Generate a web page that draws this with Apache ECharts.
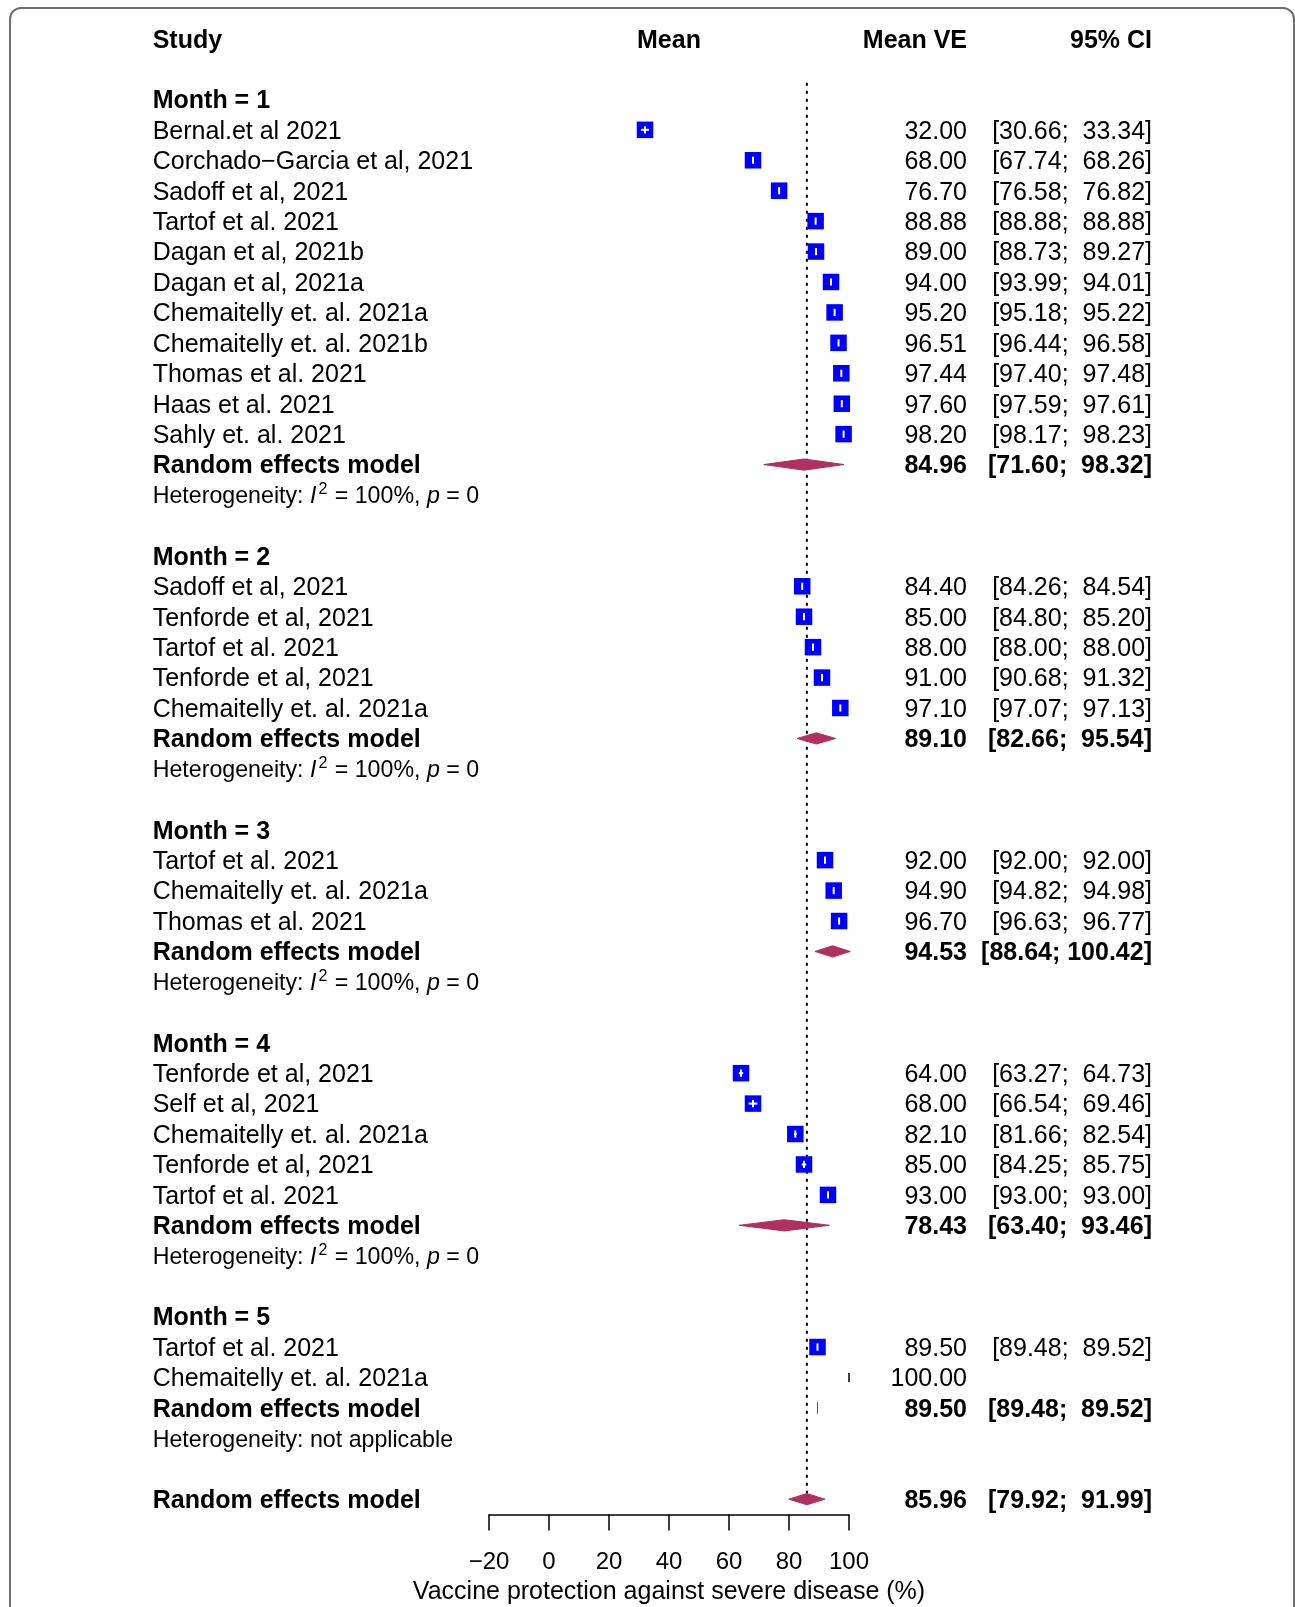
<!DOCTYPE html>
<html>
<head>
<meta charset="utf-8">
<title>Vaccine protection against severe disease by month</title>
<script src="https://cdn.jsdelivr.net/npm/echarts@6/dist/echarts.min.js"></script>
<style>
  html, body { margin: 0; padding: 0; background: #ffffff; }
  #chart { width: 1295px; height: 1607px; }
</style>
</head>
<body>
<div id="chart"></div>
<script>
// ---- Study estimates by month since vaccination (VE, 95% CI) ----
const month1Studies = ['Bernal.et al 2021', 'Corchado\u2212Garcia et al, 2021', 'Sadoff et al, 2021', 'Tartof et al. 2021',
  'Dagan et al, 2021b', 'Dagan et al, 2021a', 'Chemaitelly et. al. 2021a', 'Chemaitelly et. al. 2021b',
  'Thomas et al. 2021', 'Haas et al. 2021', 'Sahly et. al. 2021'];
const month1VE    = [32.00, 68.00, 76.70, 88.88, 89.00, 94.00, 95.20, 96.51, 97.44, 97.60, 98.20];
const month1Lower = [30.66, 67.74, 76.58, 88.88, 88.73, 93.99, 95.18, 96.44, 97.40, 97.59, 98.17];
const month1Upper = [33.34, 68.26, 76.82, 88.88, 89.27, 94.01, 95.22, 96.58, 97.48, 97.61, 98.23];

const month2Studies = ['Sadoff et al, 2021', 'Tenforde et al, 2021', 'Tartof et al. 2021', 'Tenforde et al, 2021',
  'Chemaitelly et. al. 2021a'];
const month2VE    = [84.40, 85.00, 88.00, 91.00, 97.10];
const month2Lower = [84.26, 84.80, 88.00, 90.68, 97.07];
const month2Upper = [84.54, 85.20, 88.00, 91.32, 97.13];

const month3Studies = ['Tartof et al. 2021', 'Chemaitelly et. al. 2021a', 'Thomas et al. 2021'];
const month3VE    = [92.00, 94.90, 96.70];
const month3Lower = [92.00, 94.82, 96.63];
const month3Upper = [92.00, 94.98, 96.77];

const month4Studies = ['Tenforde et al, 2021', 'Self et al, 2021', 'Chemaitelly et. al. 2021a', 'Tenforde et al, 2021',
  'Tartof et al. 2021'];
const month4VE    = [64.00, 68.00, 82.10, 85.00, 93.00];
const month4Lower = [63.27, 66.54, 81.66, 84.25, 93.00];
const month4Upper = [64.73, 69.46, 82.54, 85.75, 93.00];

const month5Studies = ['Tartof et al. 2021', 'Chemaitelly et. al. 2021a'];
const month5VE    = [89.50, 100.00];
const month5Lower = [89.48, null];
const month5Upper = [89.52, null];

// ---- Random effects pooled estimates per month ----
const monthLabels  = ['Month = 1', 'Month = 2', 'Month = 3', 'Month = 4', 'Month = 5'];
const pooledVE     = [84.96, 89.10, 94.53, 78.43, 89.50];
const pooledLower  = [71.60, 82.66, 88.64, 63.40, 89.48];
const pooledUpper  = [98.32, 95.54, 100.42, 93.46, 89.52];
const heterogI2    = ['100%', '100%', '100%', '100%', null];
const heterogP     = ['0', '0', '0', '0', null];

// ---- Overall random effects estimate ----
const overallVE    = 85.96;
const overallLower = 79.92;
const overallUpper = 91.99;

// ---- Axis ----
const axisTicks = [-20, 0, 20, 40, 60, 80, 100];
const axisTitle = 'Vaccine protection against severe disease (%)';

// ---------------------------------------------------------------------
const FONT = '"Liberation Sans", Arial, Helvetica, sans-serif';
const groups = [
  { names: month1Studies, ve: month1VE, lo: month1Lower, hi: month1Upper },
  { names: month2Studies, ve: month2VE, lo: month2Lower, hi: month2Upper },
  { names: month3Studies, ve: month3VE, lo: month3Lower, hi: month3Upper },
  { names: month4Studies, ve: month4VE, lo: month4Lower, hi: month4Upper },
  { names: month5Studies, ve: month5VE, lo: month5Lower, hi: month5Upper }
];

const fmt = v => v.toFixed(2);
function ciText(lo, hi) {
  if (lo == null || hi == null) return '';
  const h = fmt(hi);
  return '[' + fmt(lo) + ';' + (h.length < 6 ? '  ' : ' ') + h + ']';
}

// Lay the table out row by row
const textRows = [];
const studyMarks = [];   // [ve, row, lower, upper]
const plainMarks = [];   // [ve, row] – estimates without an interval
const pooledMarks = [];  // [ve, row, lower, upper]
let r = 0;
groups.forEach((g, gi) => {
  textRows.push({ row: r, label: monthLabels[gi], kind: 'bold' });
  r++;
  g.names.forEach((name, i) => {
    textRows.push({ row: r, label: name, kind: 'normal', ve: fmt(g.ve[i]), ci: ciText(g.lo[i], g.hi[i]) });
    if (g.lo[i] == null) plainMarks.push([g.ve[i], r]);
    else studyMarks.push([g.ve[i], r, g.lo[i], g.hi[i]]);
    r++;
  });
  textRows.push({ row: r, label: 'Random effects model', kind: 'bold',
    ve: fmt(pooledVE[gi]), ci: ciText(pooledLower[gi], pooledUpper[gi]) });
  pooledMarks.push([pooledVE[gi], r, pooledLower[gi], pooledUpper[gi]]);
  r++;
  textRows.push({ row: r, kind: 'het', i2: heterogI2[gi], p: heterogP[gi] });
  r++;
  r++; // blank spacer row
});
const overallRow = r;
textRows.push({ row: overallRow, label: 'Random effects model', kind: 'bold',
  ve: fmt(overallVE), ci: ciText(overallLower, overallUpper) });
pooledMarks.push([overallVE, overallRow, overallLower, overallUpper]);
const headerRow = -2;

// ---------------------------------------------------------------------
const ROW_PITCH = 30.43;
const FIRST_ROW_Y = 99.4;
const gridTop = FIRST_ROW_Y + headerRow * ROW_PITCH;
const yMax = overallRow + 0.5;
const gridHeight = (yMax - headerRow) * ROW_PITCH;

const X_STUDY = 152.7;
const X_VE = 967;
const X_CI = 1152;
const TEXT_DY = 2;      // optical centring of glyphs on the row line
const SQUARE = 16.5;
const DIAMOND_H = 5.6;
const MAROON = '#B03060';

function txt(x, y, text, align, weight, size) {
  return {
    type: 'text', x: x, y: y + TEXT_DY,
    style: {
      text: text, fill: '#000', fontFamily: FONT, fontSize: size || 25,
      fontWeight: weight || 'normal', align: align, verticalAlign: 'middle'
    }
  };
}

const chart = echarts.init(document.getElementById('chart'), null, { renderer: 'canvas' });

chart.setOption({
  animation: false,
  backgroundColor: '#ffffff',
  graphic: [{
    type: 'rect', z: -10, silent: true,
    shape: { x: 10, y: 8, width: 1284, height: 1660, r: 11 },
    style: { fill: 'none', stroke: '#6f6f6f', lineWidth: 2 }
  }],
  grid: {
    left: 489, width: 360, top: gridTop, height: gridHeight,
    containLabel: false, outerBoundsMode: 'none'
  },
  xAxis: {
    type: 'value', min: -20, max: 100, interval: 20, position: 'bottom',
    axisLine: { show: true, onZero: false, lineStyle: { color: '#000', width: 1.5 } },
    axisTick: { show: true, length: 16, lineStyle: { color: '#000', width: 1.5 } },
    axisLabel: {
      color: '#000', fontFamily: FONT, fontSize: 24, margin: 36,
      formatter: v => (axisTicks.indexOf(v) >= 0 ? String(v).replace('-', '\u2212') : '')
    },
    splitLine: { show: false },
    name: axisTitle, nameLocation: 'middle', nameGap: 64,
    nameTextStyle: { color: '#000', fontFamily: FONT, fontSize: 25 }
  },
  yAxis: {
    type: 'value', inverse: true, min: headerRow, max: yMax, show: false
  },
  series: [
    // reference line at the overall estimate
    {
      type: 'line', silent: true, symbol: 'none', z: 1,
      data: [[overallVE, -0.55], [overallVE, overallRow - 0.13]],
      lineStyle: { color: '#000', width: 2, type: [3, 5] }
    },
    // individual study squares with their confidence intervals drawn inside
    {
      type: 'custom', silent: true, z: 3,
      data: studyMarks,
      renderItem: function (params, api) {
        const c = api.coord([api.value(0), api.value(1)]);
        const lo = api.coord([api.value(2), api.value(1)]);
        const hi = api.coord([api.value(3), api.value(1)]);
        const h = SQUARE / 2;
        return {
          type: 'group',
          children: [
            { type: 'rect', shape: { x: c[0] - h, y: c[1] - h, width: SQUARE, height: SQUARE },
              style: { fill: '#0000FF' } },
            { type: 'line', shape: { x1: lo[0], y1: c[1], x2: hi[0], y2: c[1] },
              style: { stroke: '#ffffff', lineWidth: 2 } },
            { type: 'line', shape: { x1: c[0], y1: c[1] - 3.6, x2: c[0], y2: c[1] + 3.6 },
              style: { stroke: '#ffffff', lineWidth: 2 } }
          ]
        };
      }
    },
    // estimates reported without an interval
    {
      type: 'custom', silent: true, z: 3,
      data: plainMarks,
      renderItem: function (params, api) {
        const c = api.coord([api.value(0), api.value(1)]);
        return { type: 'line', shape: { x1: c[0], y1: c[1] - 4.5, x2: c[0], y2: c[1] + 4.5 },
          style: { stroke: '#000', lineWidth: 1.5 } };
      }
    },
    // pooled diamonds
    {
      type: 'custom', silent: true, z: 4,
      data: pooledMarks,
      renderItem: function (params, api) {
        const c = api.coord([api.value(0), api.value(1)]);
        const lo = api.coord([api.value(2), api.value(1)]);
        const hi = api.coord([api.value(3), api.value(1)]);
        return {
          type: 'polygon',
          shape: { points: [[lo[0], c[1]], [c[0], c[1] - DIAMOND_H], [hi[0], c[1]], [c[0], c[1] + DIAMOND_H]] },
          style: { fill: MAROON, stroke: MAROON, lineWidth: 1 }
        };
      }
    },
    // table text: header, study names, VE and CI columns
    {
      type: 'custom', silent: true, z: 5,
      data: textRows.map(t => [0, t.row]).concat([[40, headerRow]]),
      renderItem: function (params, api) {
        const y = api.coord([0, api.value(1)])[1];
        if (params.dataIndex === textRows.length) {
          const midX = api.coord([api.value(0), api.value(1)])[0];
          return {
            type: 'group', children: [
              txt(X_STUDY, y + 1, 'Study', 'left', 'bold'),
              txt(midX, y + 1, 'Mean', 'center', 'bold'),
              txt(X_VE, y + 1, 'Mean VE', 'right', 'bold'),
              txt(X_CI, y + 1, '95% CI', 'right', 'bold')
            ]
          };
        }
        const t = textRows[params.dataIndex];
        if (t.kind === 'het') {
          const base = { fontFamily: FONT, fontSize: 23.2, fill: '#000', lineHeight: 30 };
          const text = t.i2 == null
            ? '{t|Heterogeneity: not applicable}'
            : '{t|Heterogeneity: }{i|I}{s|2}{t| = ' + t.i2 + ', }{i|p}{t| = ' + t.p + '}';
          return {
            type: 'text', x: X_STUDY, y: y + TEXT_DY,
            style: {
              text: text, align: 'left', verticalAlign: 'middle', fill: '#000',
              fontFamily: FONT, fontSize: 23.2,
              rich: {
                t: base,
                i: Object.assign({}, base, { fontStyle: 'italic' }),
                s: { fontFamily: FONT, fontSize: 16, fill: '#000', lineHeight: 14, verticalAlign: 'top', padding: [0, 1, 0, 2] }
              }
            }
          };
        }
        const w = t.kind === 'bold' ? 'bold' : 'normal';
        const kids = [txt(X_STUDY, y, t.label, 'left', w)];
        if (t.ve) kids.push(txt(X_VE, y, t.ve, 'right', w));
        if (t.ci) kids.push(txt(X_CI, y, t.ci, 'right', w));
        return { type: 'group', children: kids };
      }
    }
  ]
});
</script>
</body>
</html>
